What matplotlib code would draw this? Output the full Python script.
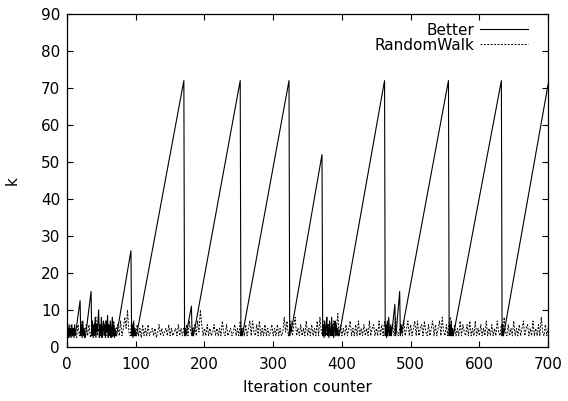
import matplotlib
matplotlib.use('Agg')
import matplotlib.pyplot as plt

plt.rcParams['font.family'] = ['DejaVu Sans']

# Better: sawtooth of k, noise near the floor between ramps
better_x = [0, 1, 2, 3, 4, 5, 6, 7, 8, 9, 10, 11, 12, 19, 20, 21, 22, 23, 24, 25, 26, 27, 35,
            36, 37, 38, 39, 40, 41, 42, 43, 44, 45, 46, 47, 48, 49, 50, 51, 52, 53, 54, 55,
            56, 57, 58, 59, 60, 61, 62, 63, 64, 65, 66, 67, 68, 69, 70, 71, 72, 93,
            94, 95, 96, 97, 98, 99, 100, 101, 170, 171, 172, 173, 181, 182, 183, 184, 252,
            253, 254, 255, 323, 324, 325, 326, 371,
            372, 373, 374, 375, 376, 377, 378, 379, 380, 381, 382, 383, 384, 385, 386, 387,
            388, 389, 390, 391, 392, 393, 394, 395, 396, 462,
            463, 464, 465, 466, 467, 468, 469, 470, 471, 472, 477, 478, 479, 484, 485, 486, 487, 555,
            556, 557, 558, 559, 560, 561, 562, 563, 632, 633, 634, 635, 636, 700]
better_y = [3, 5, 2.5, 6, 3, 5, 2.5, 6, 3, 5, 2.5, 6, 3, 12.5, 3, 6, 2.5, 7, 3, 5, 2.5, 3, 15,
            3, 7, 2.5, 6, 3, 8, 2.5, 6, 4, 7, 10, 2.5, 6, 3, 8, 2.5, 5, 7, 3, 6,
            2.5, 7, 4, 8.5, 2.5, 6, 3, 7, 2.5, 5, 8, 3, 6, 2.5, 5, 3, 3, 26,
            3, 6, 2.5, 7, 3, 5, 3, 3, 72, 3, 5, 3, 11, 3, 5, 3, 72,
            3, 5, 3, 72, 3, 6, 4, 52,
            3, 6, 2.5, 7, 3, 5, 8, 3, 6, 2.5, 7, 4, 3, 8, 3, 6,
            2.5, 5, 7, 3, 6, 3, 5, 3, 3, 72,
            3, 6, 2.5, 7, 3, 8, 4, 3, 6, 3, 11.5, 3, 4, 15, 3, 6, 4, 72,
            3, 6, 3, 7, 3, 5, 3, 4, 72, 3, 6, 3, 4, 71]

# RandomWalk: sampled every 2 iterations
rw_x = list(range(0, 701, 2))
rw_y = [3, 5, 2.5, 6, 3, 5, 4, 2.5, 6, 3, 5, 7, 3, 4, 6, 3, 6, 2.5, 5, 3, 6, 8, 3, 5, 3,
        6, 3, 5, 7, 3, 4, 6, 4, 2.5, 7, 3, 5, 6, 3, 7, 3, 5, 8, 5, 10, 4, 3, 7, 3, 5,
        3, 6, 3, 5, 2.5, 6, 3, 5, 3, 6, 3, 4, 5, 3, 5, 2.5, 4, 6, 3, 5, 3, 4, 5, 3, 6,
        3, 5, 3, 4, 5, 3, 6, 3, 5, 3, 5, 3, 6, 3, 7, 4, 3, 5, 6, 3, 7, 4, 10, 6, 3,
        5, 3, 6, 3, 5, 3, 4, 6, 3, 5, 3, 5, 3, 7, 4, 3, 6, 3, 4, 5, 3, 4, 6, 3, 5,
        3, 7, 3, 5, 3, 6, 3, 5, 7, 3, 7, 4, 3, 6, 3, 7, 3, 5, 3, 6, 3, 5, 3, 4, 6,
        3, 5, 3, 6, 3, 5, 3, 4, 8, 4, 7, 3, 5, 7, 3, 6, 8, 3, 5, 3, 6, 3, 5, 3, 7,
        3, 5, 3, 6, 3, 5, 3, 7, 3, 8, 4, 3, 7, 5, 3, 6, 3, 5, 3, 7, 3, 5, 9, 3, 6,
        3, 5, 3, 6, 3, 5, 7, 3, 5, 3, 6, 3, 7, 3, 5, 3, 6, 3, 5, 3, 7, 3, 5, 6, 3,
        5, 3, 7, 3, 6, 3, 7, 4, 3, 7, 3, 5, 6, 3, 8, 4, 3, 5, 6, 3, 7, 3, 5, 7, 3,
        6, 3, 5, 7, 3, 7, 3, 5, 6, 3, 7, 4, 3, 6, 3, 5, 7, 3, 6, 3, 5, 7, 3, 8, 4,
        3, 6, 3, 7, 8, 4, 3, 6, 3, 5, 3, 7, 3, 6, 4, 3, 6, 3, 7, 3, 5, 3, 7, 3, 5,
        3, 6, 3, 5, 3, 7, 3, 5, 3, 6, 3, 5, 3, 7, 4, 3, 6, 3, 8, 4, 3, 6, 3, 5, 3,
        7, 3, 5, 3, 6, 3, 5, 7, 3, 5, 6, 3, 5, 3, 7, 3, 5, 3, 6, 3, 8, 4, 3, 6, 3,
        5]

fig = plt.figure(figsize=(5.68, 4.01), dpi=100)
ax = fig.add_axes([0.118, 0.135, 0.847, 0.83])

ax.plot(better_x, better_y, color='black', linewidth=0.8, label='Better')
ax.plot(rw_x, rw_y, color='black', linewidth=0.7, linestyle=(0, (2, 1.5)), label='RandomWalk')

ax.set_xlim(0, 700)
ax.set_ylim(0, 90)
ax.set_xticks(range(0, 701, 100))
ax.set_yticks(range(0, 91, 10))
ax.tick_params(direction='in', top=True, right=True, length=4, width=0.8,
               labelsize=11, pad=5)
ax.tick_params(axis='x', pad=7)
for s in ax.spines.values():
    s.set_linewidth(0.9)

ax.set_xlabel('Iteration counter', fontsize=11, labelpad=6)
ax.set_ylabel('k', fontsize=11, labelpad=15)

ax.legend(loc='upper right', bbox_to_anchor=(0.970, 0.992), frameon=False,
          markerfirst=False, fontsize=11, handlelength=3.1, handletextpad=0.35,
          labelspacing=0.0, borderaxespad=0.0)

fig.savefig('out.png', dpi=100)
